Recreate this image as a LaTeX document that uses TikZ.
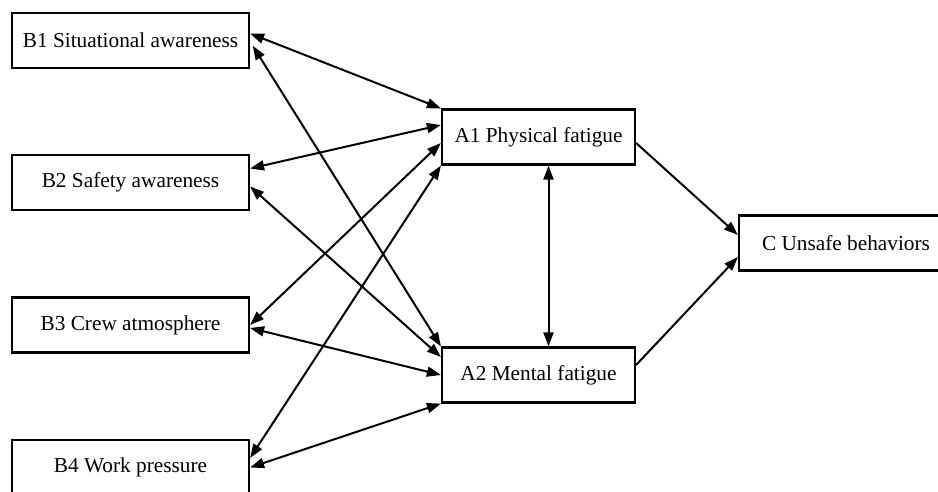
\documentclass[tikz,border=0pt]{standalone}
\usepackage{fontspec}
\setmainfont{Liberation Serif}
\usetikzlibrary{arrows.meta}

\begin{document}
\begin{tikzpicture}[
        x=1pt,y=-1pt,
        box/.style={draw,line width=2.2pt,minimum height=55pt,inner sep=0pt,font=\fontsize{21.3}{25}\selectfont},
        bbox/.style={box,minimum width=237pt},
        abox/.style={box,minimum width=193pt},
        link/.style={{Triangle[length=14pt,width=10pt]}-{Triangle[length=14pt,width=10pt]},line width=2pt},
        path/.style={-{Triangle[length=14pt,width=10pt]},line width=2pt}
    ]
        \useasboundingbox (0,0) rectangle (938,492);

        % Define the nodes
        \node[bbox] (B1) at (130.5,40.5) {B1 Situational awareness};
        \node[bbox] (B2) at (130.5,182.5) {B2 Safety awareness};
        \node[bbox] (B3) at (130.5,325) {B3 Crew atmosphere};
        \node[bbox] (B4) at (130.5,467.5) {B4 Work pressure};
        \node[abox] (A1) at (538.5,137) {A1 Physical fatigue};
        \node[abox] (A2) at (538.5,375) {A2 Mental fatigue};
        \node[box,minimum width=214pt] (C) at (846,243) {C Unsafe behaviors};

        % Draw the links to physical fatigue
        \draw[link] ([yshift=7pt]B1.east) -- (A1.north west);
        \draw[link] ([yshift=14pt]B2.east) -- ([yshift=12pt]A1.west);
        \draw[link] (B3.east) -- ([yshift=-6pt]A1.west);
        \draw[link] ([yshift=9.5pt]B4.east) -- (A1.south west);

        % Draw the links to mental fatigue
        \draw[link,shorten <=5pt] ([yshift=-1pt]B1.east) -- (A2.north west);
        \draw[link] ([yshift=-4pt]B2.east) -- ([yshift=18pt]A2.west);
        \draw[link] ([yshift=-3pt]B3.east) -- (A2.west);
        \draw[link] (B4.east) -- (A2.south west);

        % Draw the link between the two fatigues
        \draw[link] ([xshift=10pt]A1.south) -- ([xshift=10pt]A2.north);

        % Draw the paths to unsafe behaviors
        \draw[path] ([yshift=-6pt]A1.east) -- ([yshift=8pt]C.west);
        \draw[path] ([yshift=10pt]A2.east) -- ([yshift=-14pt]C.west);
    \end{tikzpicture}
\end{document}
